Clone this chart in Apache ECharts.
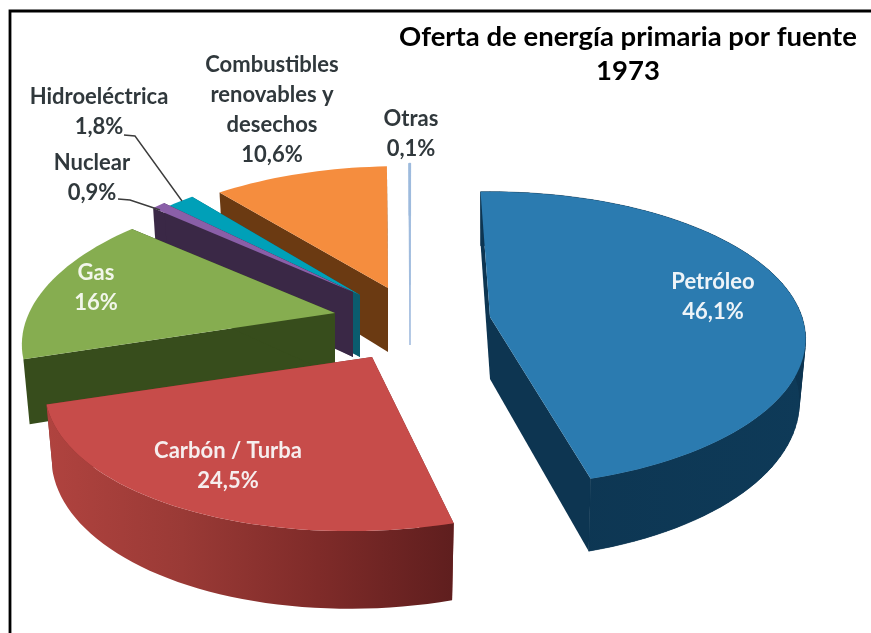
<!DOCTYPE html>
<html><head><meta charset="utf-8">
<script src="https://cdn.jsdelivr.net/npm/echarts@6/dist/echarts.min.js"></script>
<style>html,body{margin:0;padding:0;background:#fff}#c{width:871px;height:633px}</style>
</head><body><div id="c"></div>
<script>
// ---- data ----
const categories = ['Petróleo','Carbón / Turba','Gas','Nuclear','Hidroeléctrica','Combustibles\nrenovables y\ndesechos','Otras'];
const shares = [46.1,24.5,16,0.9,1.8,10.6,0.1];
const shareLabels = ['46,1%','24,5%','16%','0,9%','1,8%','10,6%','0,1%'];
const titleLines = ['Oferta de energía primaria por fuente','1973'];
// ---- styles ----
const topColors  = ['#2b7bb0','#c74c4a','#86ad50','#8a5fa8','#00a0b8','#f58d3e','#9dbbdd'];
const wallColors = ['#0d3551','#7a2a28','#374d1c','#3a2846','#0b5c6e','#6b3a12','#9dbbdd'];
const sideStops  = [
  ['#0d3551','#0e3a58'],['#b0433f','#9a3a36','#7f2b29','#5f1e1e'],['#374d1c','#374d1c'],
  ['#3a2846','#3a2846'],['#0b5c6e','#0b5c6e'],['#6b3a12','#6b3a12'],['#9dbbdd','#9dbbdd']];
const labelColors = ['#eef4f8','#f6eeee','#f2f6ea','#30383c','#30383c','#30383c','#30383c'];
// ---- 3D pie layout: exploded apex of each slice, radii, shear, thickness ----
const apexX = [490,372,335,353,360,388,410];
const apexY = [317,357,313,292,295,288,285];
const radX  = [312,320,306,285,288,302,302];
const radY  = [144,148,144,144,144,140,140];
const shear = [0,-0.13,-0.136,0,0,-0.08,-0.08];
const thick = [62,66,62,65,62,64,60];
const showArc = [1,1,0,0,0,0,1];
const startAngle = -2, persp = 0.15, inward = 0.02;
const labelX = [713,228,96,92,99,272,411];
const labelY = [297,466,288,178,112,110,134];
const leaderLines = {3:[[118,199],[130,200],[160,210]],4:[[124,135],[135,136],[182,201]]};
const labelFont = 'bold 22px Lato, sans-serif';

const total = shares.reduce((a,b)=>a+b,0);
const rad = d => d*Math.PI/180;
function pt(i,deg,drop){
  const u=Math.sin(rad(deg)), v=-Math.cos(rad(deg)), w=1-persp*v;
  let dx=radX[i]*u/w, dy=radY[i]*v/w;
  dx+=shear[i]*dy;
  if(drop){ return [apexX[i]+dx*(1-inward), apexY[i]+dy+thick[i]/w]; }
  return [apexX[i]+dx, apexY[i]+dy];
}
const apexDrop = i => [apexX[i], apexY[i]+thick[i]];
const angles=[]; let acc=startAngle;
shares.forEach(s=>{angles.push([acc,acc+s/total*360]);acc+=s/total*360;});

function renderItem(params,api){
  const i=api.value(0), a0=angles[i][0], a1=angles[i][1];
  const n=Math.max(2,Math.ceil((a1-a0)/2));
  const top=[],bot=[];
  for(let k=0;k<=n;k++){const a=a0+(a1-a0)*k/n; top.push(pt(i,a,false)); bot.push(pt(i,a,true));}
  const apex=[apexX[i],apexY[i]], ad=apexDrop(i);
  const thin = shares[i]<0.5;
  const st = c => thin?{fill:c,stroke:c,lineWidth:0.6}:{fill:c};
  const stops=sideStops[i].map((c,j,arr)=>({offset:j/(arr.length-1),color:c}));
  const sideFill=new echarts.graphic.LinearGradient(0,0,1,0,stops);
  const ch=[
    {type:'polygon',shape:{points:[apex,top[0],bot[0],ad]},style:st(wallColors[i])},
    {type:'polygon',shape:{points:[apex,top[n],bot[n],ad]},style:st(wallColors[i])}
  ];
  if(showArc[i]){
    if(sideStops[i].length===2 && !thin){
      for(let k=0;k<n;k++) ch.push({type:'polygon',shape:{points:[top[k],top[k+1],bot[k+1],bot[k]]},style:{fill:wallColors[i],stroke:wallColors[i],lineWidth:0.5}});
    }
    ch.push({type:'polygon',shape:{points:top.concat(bot.slice().reverse())},style:thin?st(wallColors[i]):{fill:sideFill}});
  }
  ch.push({type:'polygon',shape:{points:[apex].concat(top)},style:st(topColors[i])});
  if(leaderLines[i]) ch.push({type:'polyline',z2:20,shape:{points:leaderLines[i]},style:{fill:null,stroke:'#3c3c3c',lineWidth:1.4}});
  const lines=categories[i].split('\n').concat([shareLabels[i]]);
  ch.push({type:'text',z2:30,style:{text:lines.join('\n'),x:labelX[i],y:labelY[i],align:'center',verticalAlign:'middle',
    font:labelFont,lineHeight:30,fill:labelColors[i]}});
  return {type:'group',children:ch};
}
const rows=shares.map((s,i)=>[i,s,categories[i]]).reverse();
const chart=echarts.init(document.getElementById('c'),null,{renderer:'canvas'});
chart.setOption({
  animation:false,
  backgroundColor:'#fff',
  title:{text:titleLines.join('\n'),left:623,top:15,textAlign:'center',
    textStyle:{fontFamily:'Lato',fontWeight:'bold',fontSize:27.5,color:'#000',lineHeight:34}},
  graphic:[{type:'polyline',z:-1,shape:{points:[[10,640],[10,11],[871,11]]},style:{fill:null,stroke:'#000',lineWidth:2.8}}],
  series:[{type:'custom',coordinateSystem:'none',data:rows,renderItem:renderItem,silent:true}]
});
</script></body></html>
